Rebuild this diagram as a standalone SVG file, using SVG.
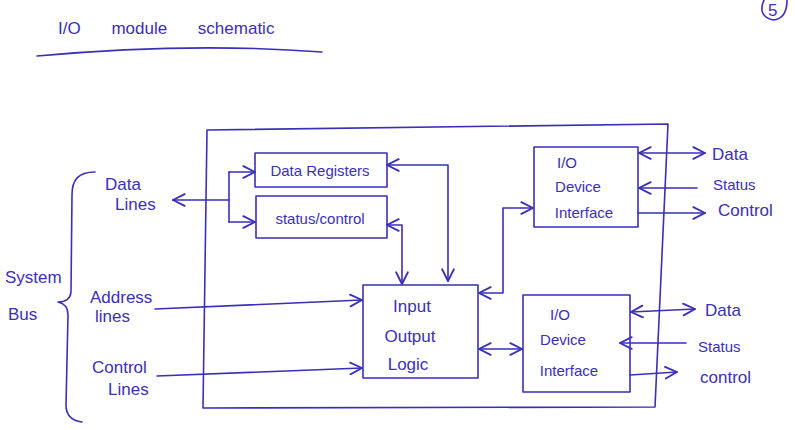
<svg xmlns="http://www.w3.org/2000/svg" width="795" height="430" viewBox="0 0 795 430">
<style>
.ink{fill:none;stroke:#3b2fb8;stroke-width:1.6;stroke-linejoin:round;stroke-linecap:round}
.t{fill:#3b2fb8;font-family:"Liberation Sans",Arial,sans-serif;font-size:17px}
.s{font-size:15px}
.m{text-anchor:middle}
.c{marker-end:url(#ah)}
.b{marker-start:url(#ah);marker-end:url(#ah)}
</style>
<defs>
<marker id="ah" markerUnits="userSpaceOnUse" markerWidth="14" markerHeight="14" viewBox="0 0 12 12" refX="11" refY="6" orient="auto-start-reverse">
<path d="M1,1 L11,6 L1,11" fill="none" stroke="#3b2fb8" stroke-width="1.6" stroke-linecap="round" stroke-linejoin="round"/>
</marker>
</defs>
<rect width="795" height="430" fill="#ffffff"/>
<g id="title">
<text class="t" x="58" y="34" font-size="21" word-spacing="26">I/O module schematic</text>
<path class="ink" d="M37,56 Q190,42 322,52"/>
<path class="ink" d="M764,0 Q757,16 773,20 Q787,19 787,0"/>
<text class="t" x="768" y="16" font-size="12">5</text>
</g>
<g id="system-bus">
<path class="ink" d="M95,172 C78,172 72,180 72,195 L71,292 Q70,302 58,302 Q68,304 68,315 L66,405 Q66,420 82,422"/>
<text class="t" x="5" y="283">System</text>
<text class="t" x="8" y="320">Bus</text>
</g>
<g id="bus-labels">
<text class="t" x="105" y="190">Data</text>
<text class="t" x="115" y="210">Lines</text>
<text class="t" x="90" y="303">Address</text>
<text class="t" x="95" y="322">lines</text>
<text class="t" x="92" y="373">Control</text>
<text class="t" x="108" y="395">Lines</text>
</g>
<g id="io-module">
<path class="ink" d="M207,130 L668,124 L655,407 L203,408 Z"/>
</g>
<g id="data-registers">
<rect class="ink" x="255" y="153" width="132" height="34"/>
<text class="t s m" x="320" y="176">Data Registers</text>
</g>
<g id="status-control">
<rect class="ink" x="256" y="196" width="131" height="42"/>
<text class="t s m" x="320" y="224">status/control</text>
</g>
<g id="io-logic">
<rect class="ink" x="363" y="285" width="115" height="93"/>
<text class="t m" x="412" y="312" font-size="18">Input</text>
<text class="t m" x="410" y="342" font-size="18">Output</text>
<text class="t m" x="408" y="370" font-size="18">Logic</text>
</g>
<g id="io-device-interface-1">
<rect class="ink" x="534" y="147" width="104" height="80"/>
<text class="t s m" x="567" y="168">I/O</text>
<text class="t s m" x="578" y="192">Device</text>
<text class="t s m" x="584" y="218">Interface</text>
</g>
<g id="io-device-interface-2">
<rect class="ink" x="523" y="295" width="107" height="97"/>
<text class="t s m" x="560" y="320">I/O</text>
<text class="t s m" x="563" y="345">Device</text>
<text class="t s m" x="569" y="376">Interface</text>
</g>
<g id="device-labels">
<text class="t" x="712" y="160" font-size="18">Data</text>
<text class="t s" x="713" y="190">Status</text>
<text class="t" x="718" y="216" font-size="16">Control</text>
<text class="t" x="705" y="316" font-size="18">Data</text>
<text class="t s" x="698" y="352">Status</text>
<text class="t" x="700" y="383" font-size="16">control</text>
</g>
<g id="connectors">
<path class="ink" style="marker-start:url(#ah)" d="M173,200 H229"/>
<path class="ink" d="M229,172 V222"/>
<path class="ink c" d="M229,172 H255"/>
<path class="ink c" d="M229,222 H255"/>
<path class="ink c" d="M155,309 L362,300"/>
<path class="ink c" d="M157,376 L362,368"/>
<path class="ink b" d="M387,165 H448 V281"/>
<path class="ink b" d="M387,225 H402 V284"/>
<path class="ink b" d="M479,293 H503 V208 H533"/>
<path class="ink b" d="M479,349 H522"/>
<path class="ink b" d="M639,153 H705"/>
<path class="ink c" d="M697,188 H639"/>
<path class="ink c" d="M638,213 H705"/>
<path class="ink b" d="M631,312 L695,309"/>
<path class="ink c" d="M686,343 H620"/>
<path class="ink c" d="M630,375 L677,372"/>
</g>
</svg>
